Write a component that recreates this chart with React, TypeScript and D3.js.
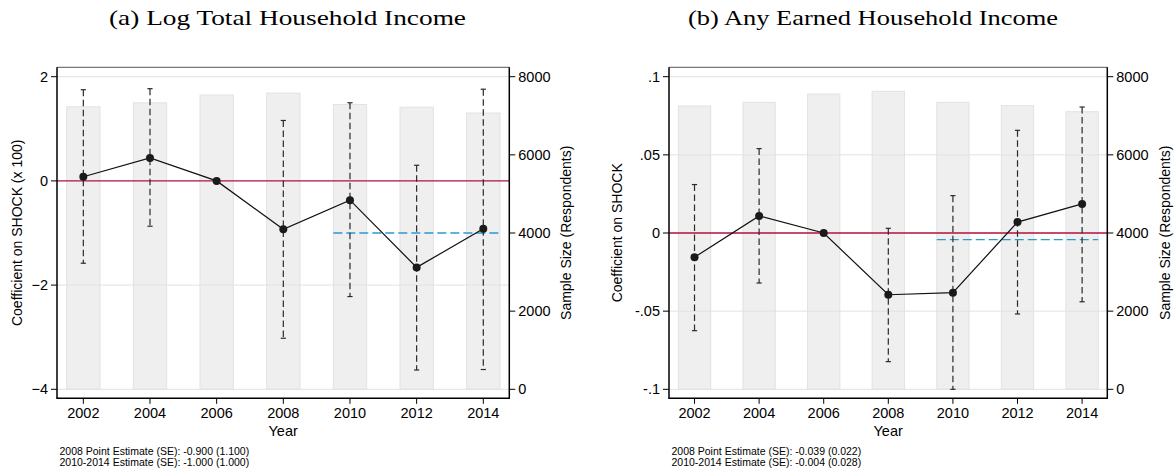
import React from "react";
import * as d3 from "d3";

// ---------- data ----------
const years = [2002, 2004, 2006, 2008, 2010, 2012, 2014];

const incomeCoef = [0.08, 0.44, 0, -0.93, -0.37, -1.66, -0.92];
const incomeLo = [-1.58, -0.87, 0, -3.02, -2.22, -3.63, -3.62];
const incomeHi = [1.75, 1.77, 0, 1.16, 1.5, 0.3, 1.76];
const incomeN = [7230, 7330, 7530, 7580, 7290, 7220, 7070];
const incomePooled = -1.0;
const incomeTicks = [-4, -2, 0, 2];
const incomeNotes = [
  "2008 Point Estimate (SE): -0.900 (1.100)",
  "2010-2014 Estimate (SE): -1.000 (1.000)",
];

const earnedCoef = [-0.0155, 0.0109, 0, -0.0395, -0.0382, 0.007, 0.0186];
const earnedLo = [-0.0625, -0.032, 0, -0.0823, -0.1, -0.0518, -0.044];
const earnedHi = [0.031, 0.054, 0, 0.003, 0.0239, 0.0657, 0.0806];
const earnedN = [7250, 7345, 7557, 7626, 7345, 7258, 7104];
const earnedPooled = -0.0043;
const earnedTicks = [-0.1, -0.05, 0, 0.05, 0.1];
const earnedNotes = [
  "2008 Point Estimate (SE): -0.039 (0.022)",
  "2010-2014 Estimate (SE): -0.004 (0.028)",
];

const nTicks = [0, 2000, 4000, 6000, 8000];
const pooledStart = 2010;

const SANS = "'Liberation Sans', Arial, Helvetica, sans-serif";
const SERIF = "'Liberation Serif', 'Times New Roman', serif";

type PanelProps = {
  title: string;
  titleX: number;
  titleLen: number;
  left: number;
  right: number;
  yLabel: string;
  yLabelX: number;
  nLabelX: number;
  coef: number[];
  lo: number[];
  hi: number[];
  n: number[];
  pooled: number;
  yDomain: [number, number];
  yTicks: number[];
  fmt: (v: number) => string;
  notes: string[];
};

const TOP = 67.3;
const BOTTOM = 398.3;
const Y0 = 389.3;
const Y1 = 76.7;

function Panel(p: PanelProps) {
  const x = d3
    .scaleLinear()
    .domain([2001.21, 2014.78])
    .range([p.left, p.right]);
  const y = d3.scaleLinear().domain(p.yDomain).range([Y0, Y1]);
  const yN = d3.scaleLinear().domain([0, 8000]).range([Y0, Y1]);
  const bw = x(2003) - x(2002);
  const pts = years.map((yr, i) => [x(yr), y(p.coef[i])] as [number, number]);
  const line = d3.line()(pts) || "";
  const cx = (p.left + p.right) / 2;
  const cy = (TOP + BOTTOM) / 2;
  const cap = 2.6;
  return (
    <g>
      <text
        x={p.titleX}
        y={24.5}
        textAnchor="middle"
        fontFamily={SERIF}
        fontSize={22}
        textLength={p.titleLen}
        lengthAdjust="spacingAndGlyphs"
        fill="#000"
      >
        {p.title}
      </text>
      {/* bars */}
      {years.map((yr, i) => (
        <rect
          key={"b" + yr}
          x={x(yr) - bw / 2}
          y={yN(p.n[i])}
          width={bw}
          height={yN(0) - yN(p.n[i])}
          fill="#efefef"
          stroke="#e2e2e2"
          strokeWidth={1}
        />
      ))}
      {/* grid */}
      {p.yTicks
        .filter((t) => Math.abs(t) > 1e-9)
        .map((t) => (
          <line
            key={"g" + t}
            x1={p.left}
            x2={p.right}
            y1={y(t)}
            y2={y(t)}
            stroke="#e2e2e2"
            strokeWidth={1}
          />
        ))}
      {/* zero line */}
      <line
        x1={p.left}
        x2={p.right}
        y1={y(0)}
        y2={y(0)}
        stroke="#b0123e"
        strokeWidth={1.4}
      />
      {/* pooled estimate */}
      <line
        x1={x(pooledStart) - bw / 2}
        x2={x(2014) + bw / 2}
        y1={y(p.pooled)}
        y2={y(p.pooled)}
        stroke="#2b9bcc"
        strokeWidth={1.3}
        strokeDasharray="9,4"
      />
      {/* error bars */}
      {years.map((yr, i) =>
        p.hi[i] === p.lo[i] ? null : (
          <g key={"e" + yr} stroke="#2a2a2a" strokeWidth={1.2}>
            <line
              x1={x(yr)}
              x2={x(yr)}
              y1={y(p.hi[i])}
              y2={y(p.lo[i])}
              strokeDasharray="6.5,3.5"
            />
            <line x1={x(yr) - cap} x2={x(yr) + cap} y1={y(p.hi[i])} y2={y(p.hi[i])} />
            <line x1={x(yr) - cap} x2={x(yr) + cap} y1={y(p.lo[i])} y2={y(p.lo[i])} />
          </g>
        )
      )}
      {/* connecting line */}
      <path d={line} fill="none" stroke="#111" strokeWidth={1.2} />
      {pts.map(([px, py], i) => (
        <circle key={"c" + i} cx={px} cy={py} r={4} fill="#1a1a1a" />
      ))}
      {/* frame */}
      <line x1={p.left} x2={p.right} y1={TOP} y2={TOP} stroke="#555" strokeWidth={1} />
      <line x1={p.left} x2={p.left} y1={TOP} y2={BOTTOM} stroke="#000" strokeWidth={1.5} />
      <line x1={p.right} x2={p.right} y1={TOP} y2={BOTTOM} stroke="#000" strokeWidth={1.5} />
      <line x1={p.left - 0.7} x2={p.right + 0.7} y1={BOTTOM} y2={BOTTOM} stroke="#000" strokeWidth={1.5} />
      {/* left ticks */}
      {p.yTicks.map((t) => (
        <g key={"lt" + t}>
          <line x1={p.left - 6} x2={p.left} y1={y(t)} y2={y(t)} stroke="#000" strokeWidth={1} />
          <text
            x={p.left - 9}
            y={y(t)}
            dy="0.35em"
            textAnchor="end"
            fontFamily={SANS}
            fontSize={14.5}
          >
            {p.fmt(t)}
          </text>
        </g>
      ))}
      {/* right ticks */}
      {nTicks.map((t) => (
        <g key={"rt" + t}>
          <line x1={p.right} x2={p.right + 6} y1={yN(t)} y2={yN(t)} stroke="#000" strokeWidth={1} />
          <text
            x={p.right + 9}
            y={yN(t)}
            dy="0.35em"
            textAnchor="start"
            fontFamily={SANS}
            fontSize={14.5}
          >
            {t}
          </text>
        </g>
      ))}
      {/* x ticks */}
      {years.map((yr) => (
        <g key={"xt" + yr}>
          <line x1={x(yr)} x2={x(yr)} y1={BOTTOM} y2={BOTTOM + 5.5} stroke="#000" strokeWidth={1} />
          <text x={x(yr)} y={418} textAnchor="middle" fontFamily={SANS} fontSize={14.5}>
            {yr}
          </text>
        </g>
      ))}
      <text x={cx} y={435.5} textAnchor="middle" fontFamily={SANS} fontSize={14.5}>
        Year
      </text>
      <text
        transform={`translate(${p.yLabelX},${cy}) rotate(-90)`}
        textAnchor="middle"
        dominantBaseline="central"
        fontFamily={SANS}
        fontSize={14}
      >
        {p.yLabel}
      </text>
      <text
        transform={`translate(${p.nLabelX},${cy}) rotate(-90)`}
        textAnchor="middle"
        dominantBaseline="central"
        fontFamily={SANS}
        fontSize={14}
      >
        Sample Size (Respondents)
      </text>
      {p.notes.map((s, i) => (
        <text
          key={"n" + i}
          x={p.left + 2.5}
          y={455 + i * 11}
          fontFamily={SANS}
          fontSize={10.5}
        >
          {s}
        </text>
      ))}
    </g>
  );
}

const fmtInt = (v: number) => d3.format("d")(v);
const fmtDec = (v: number) => {
  if (Math.abs(v) < 1e-9) return "0";
  const s = String(+v.toFixed(2));
  return s.replace(/^(-?)0\./, "$1.");
};

export default function App() {
  return (
    <svg
      width={1175}
      height={474}
      style={{ position: "absolute", left: 0, top: 0, background: "#fff" }}
    >
      <rect x={0} y={0} width={1175} height={474} fill="#fff" />
      <Panel
        title="(a) Log Total Household Income"
        titleX={287.5}
        titleLen={357}
        left={57}
        right={509.3}
        yLabel="Coefficient on SHOCK (x 100)"
        yLabelX={17}
        nLabelX={566}
        coef={incomeCoef}
        lo={incomeLo}
        hi={incomeHi}
        n={incomeN}
        pooled={incomePooled}
        yDomain={[-4, 2]}
        yTicks={incomeTicks}
        fmt={fmtInt}
        notes={incomeNotes}
      />
      <Panel
        title="(b) Any Earned Household Income"
        titleX={873}
        titleLen={370}
        left={669}
        right={1107.3}
        yLabel="Coefficient on SHOCK"
        yLabelX={617}
        nLabelX={1165}
        coef={earnedCoef}
        lo={earnedLo}
        hi={earnedHi}
        n={earnedN}
        pooled={earnedPooled}
        yDomain={[-0.1, 0.1]}
        yTicks={earnedTicks}
        fmt={fmtDec}
        notes={earnedNotes}
      />
    </svg>
  );
}
